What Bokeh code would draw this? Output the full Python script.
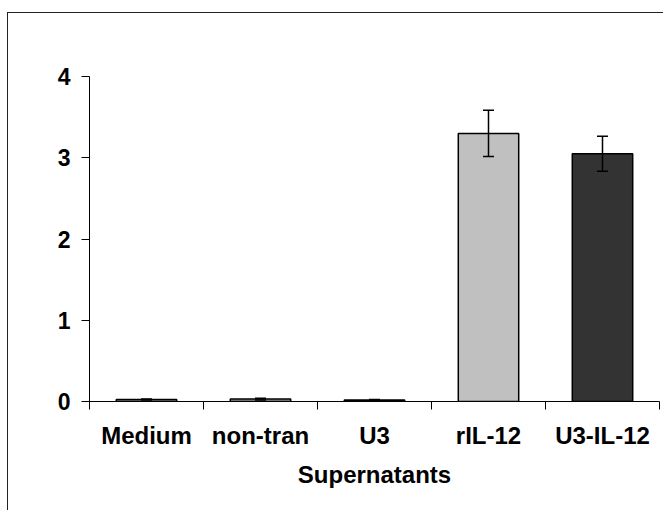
from bokeh.plotting import figure
from bokeh.models import ColumnDataSource, Range1d, FixedTicker, Whisker, TeeHead
from bokeh.embed import file_html
from bokeh.resources import INLINE

categories = ["Medium", "non-tran", "U3", "rIL-12", "U3-IL-12"]
values = [0.025, 0.03, 0.02, 3.30, 3.05]
errors = [0.005, 0.01, 0.005, 0.285, 0.215]
fills = ["#9a9a9a", "#9a9a9a", "#9a9a9a", "#c0c0c0", "#333333"]
y_ticks = [0, 1, 2, 3, 4]
x_title = "Supernatants"

FONT = "Liberation Sans"

xs = [i + 0.5 for i in range(len(categories))]
src = ColumnDataSource(dict(
    x=xs, top=values, fill=fills,
    upper=[v + e for v, e in zip(values, errors)],
    lower=[v - e for v, e in zip(values, errors)],
))

# the page-level chart border is drawn with CSS on the plot's host element
p = figure(width=656, height=498, output_backend="svg", toolbar_location=None,
           x_range=Range1d(0, len(categories)), y_range=Range1d(0, 4),
           min_border_left=81, min_border_right=5, min_border_top=63,
           min_border_bottom=110,
           styles={"border-left": "1.5px solid #222222",
                   "border-top": "1.5px solid #222222",
                   "margin-left": "6.5px", "margin-top": "11.5px"})
p.outline_line_color = None
p.grid.visible = False
p.background_fill_color = "white"
p.border_fill_color = "white"

p.vbar(x="x", top="top", width=0.53, bottom=0, source=src, fill_color="fill",
       line_color="black", line_width=1.5)

w = Whisker(base="x", upper="upper", lower="lower", source=src,
            line_color="black", line_width=1.5, level="overlay",
            upper_head=TeeHead(size=11, line_color="black", line_width=1.5),
            lower_head=TeeHead(size=11, line_color="black", line_width=1.5))
p.add_layout(w)

xa = p.xaxis[0]
xa.ticker = FixedTicker(ticks=xs, minor_ticks=list(range(len(categories) + 1)))
xa.major_label_overrides = {x: c for x, c in zip(xs, categories)}
xa.major_tick_line_color = None
xa.major_tick_out = 0
xa.major_tick_in = 0
xa.minor_tick_out = 8
xa.minor_tick_in = 0
xa.minor_tick_line_color = "black"
xa.minor_tick_line_width = 1
xa.axis_line_color = "black"
xa.axis_line_width = 1
xa.major_label_text_font = FONT
xa.major_label_text_font_style = "bold"
xa.major_label_text_font_size = "24px"
xa.major_label_text_color = "black"
xa.major_label_standoff = 12
xa.axis_label = x_title
xa.axis_label_text_font = FONT
xa.axis_label_text_font_style = "bold"
xa.axis_label_text_font_size = "24px"
xa.axis_label_text_color = "black"
xa.axis_label_standoff = 9

ya = p.yaxis[0]
ya.ticker = FixedTicker(ticks=y_ticks, minor_ticks=[])
ya.major_tick_out = 8
ya.major_tick_in = 0
ya.major_tick_line_color = "black"
ya.axis_line_color = "black"
ya.axis_line_width = 1
ya.major_label_text_font = FONT
ya.major_label_text_font_style = "bold"
ya.major_label_text_font_size = "23px"
ya.major_label_text_color = "black"
ya.major_label_standoff = 11

open("out.html", "w").write(file_html(p, INLINE))
